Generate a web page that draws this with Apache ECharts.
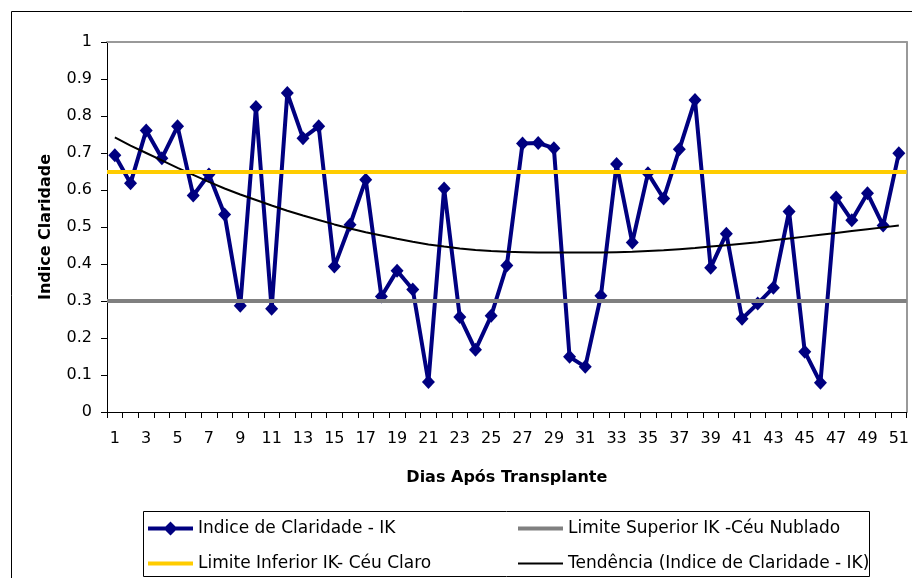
<!DOCTYPE html>
<html>
<head>
<meta charset="utf-8">
<script src="https://cdn.jsdelivr.net/npm/echarts@6/dist/echarts.min.js"></script>
<style>html,body{margin:0;padding:0;background:#fff}#c{width:912px;height:578px}</style>
</head>
<body>
<div id="c"></div>
<script>
const categories = ['1','2','3','4','5','6','7','8','9','10','11','12','13','14','15','16','17','18','19','20','21','22','23','24','25','26','27','28','29','30','31','32','33','34','35','36','37','38','39','40','41','42','43','44','45','46','47','48','49','50','51'];
const indiceClaridade = [0.694,0.618,0.761,0.686,0.772,0.585,0.642,0.534,0.287,0.824,0.279,0.862,0.740,0.772,0.393,0.506,0.628,0.312,0.382,0.331,0.081,0.604,0.257,0.168,0.260,0.396,0.726,0.727,0.713,0.149,0.122,0.314,0.670,0.458,0.645,0.577,0.710,0.843,0.390,0.482,0.252,0.293,0.336,0.542,0.163,0.079,0.580,0.518,0.591,0.504,0.699];
const tendencia = [0.742,0.720,0.700,0.680,0.660,0.641,0.622,0.604,0.588,0.573,0.558,0.544,0.531,0.519,0.507,0.496,0.486,0.477,0.468,0.460,0.453,0.447,0.442,0.438,0.435,0.433,0.432,0.431,0.431,0.431,0.431,0.431,0.432,0.433,0.435,0.437,0.440,0.443,0.447,0.451,0.455,0.459,0.464,0.469,0.474,0.479,0.484,0.489,0.494,0.499,0.504];
const limiteSuperior = 0.30;
const limiteInferior = 0.65;
const seriesNames = ['Indice de Claridade - IK','Limite Superior IK -Céu Nublado','Limite Inferior IK- Céu Claro','Tendência (Indice de Claridade - IK)'];

const FONT = 'DejaVu Sans';
const ICON_MARKER = 'path://M0,5L45,5L45,9L0,9Z M22.5,0L29.5,7L22.5,14L15.5,7Z';
const ICON_THICK = 'path://M0,0L45,0L45,4L0,4Z';
const ICON_THIN = 'path://M0,0L45,0L45,2L0,2Z';
const chart = echarts.init(document.getElementById('c'), null, {renderer:'canvas'});
const limitLine = (name, value, color) => ({
  name: name, type: 'line', data: [], symbol: 'none',
  lineStyle: {color: color, width: 4}, itemStyle: {color: color},
  markLine: {silent: true, symbol: ['none','none'], label: {show: false},
    lineStyle: {color: color, width: 4, type: 'solid'}, data: [{yAxis: value}], animation: false},
  z: 3
});
const legendBase = {orient: 'vertical', top: 520, padding: 0, itemWidth: 45, itemHeight: 14, itemGap: 18,
  textStyle: {fontFamily: FONT, fontSize: 17, color: '#000'}, z: 5};
chart.setOption({
  animation: false,
  textStyle: {fontFamily: FONT, color: '#000'},
  graphic: [
    {type: 'rect', shape: {x: 11.5, y: 11.5, width: 950, height: 620}, style: {fill: 'none', stroke: '#000', lineWidth: 1}, z: -1},
    {type: 'rect', shape: {x: 143.5, y: 511.5, width: 726, height: 65}, style: {fill: '#fff', stroke: '#000', lineWidth: 1}, z: 0}
  ],
  grid: {left: 107, right: 4, top: 42, bottom: 166, containLabel: false},
  legend: [
    Object.assign({}, legendBase, {left: 148, data: [
      {name: seriesNames[0], icon: ICON_MARKER},
      {name: seriesNames[2], icon: ICON_THICK}]}),
    Object.assign({}, legendBase, {left: 518, data: [
      {name: seriesNames[1], icon: ICON_THICK},
      {name: seriesNames[3], icon: ICON_THIN}]})
  ],
  xAxis: [
    {type: 'category', data: categories, boundaryGap: true,
     name: 'Dias Após Transplante', nameLocation: 'middle', nameGap: 58,
     nameTextStyle: {fontFamily: FONT, fontSize: 16, fontWeight: 'bold', color: '#000'},
     axisLine: {show: true, onZero: false, lineStyle: {color: '#000', width: 1}},
     axisTick: {show: true, interval: 0, alignWithLabel: false, length: 6, lineStyle: {color: '#000'}},
     axisLabel: {interval: 1, margin: 19, fontFamily: FONT, fontSize: 16, color: '#000'},
     splitLine: {show: false}},
    {type: 'category', data: categories, position: 'top',
     axisLine: {show: true, onZero: false, lineStyle: {color: '#999', width: 2}},
     axisTick: {show: false}, axisLabel: {show: false}, splitLine: {show: false}}
  ],
  yAxis: [
    {type: 'value', min: 0, max: 1, interval: 0.1,
     name: 'Indice Claridade', nameLocation: 'middle', nameGap: 53,
     nameTextStyle: {fontFamily: FONT, fontSize: 16, fontWeight: 'bold', color: '#000'},
     axisLine: {show: true, onZero: false, lineStyle: {color: '#000', width: 1}},
     axisTick: {show: true, length: 6, lineStyle: {color: '#000'}},
     axisLabel: {margin: 15, fontFamily: FONT, fontSize: 16, color: '#000'},
     splitLine: {show: false}},
    {type: 'value', min: 0, max: 1, interval: 0.1, position: 'right',
     axisLine: {show: true, onZero: false, lineStyle: {color: '#999', width: 2}},
     axisTick: {show: false}, axisLabel: {show: false}, splitLine: {show: false}}
  ],
  series: [
    {name: seriesNames[0], type: 'line', data: indiceClaridade, symbol: 'diamond', symbolSize: [13, 14],
     showAllSymbol: true, lineStyle: {color: '#000080', width: 4}, itemStyle: {color: '#000080'}, z: 2},
    limitLine(seriesNames[1], limiteSuperior, '#808080'),
    limitLine(seriesNames[2], limiteInferior, '#FFCC00'),
    {name: seriesNames[3], type: 'line', data: tendencia, symbol: 'none',
     lineStyle: {color: '#000', width: 2}, itemStyle: {color: '#000'}, z: 4}
  ]
});
</script>
</body>
</html>
